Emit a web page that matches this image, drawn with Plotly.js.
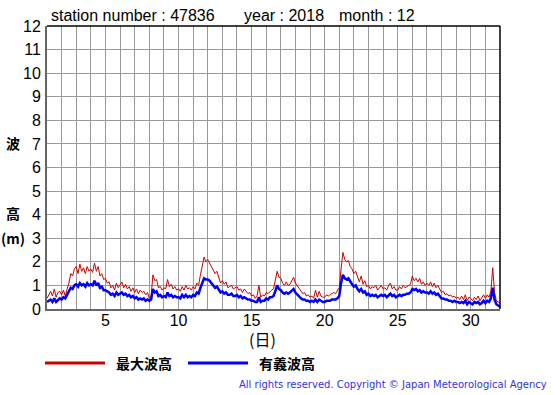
<!DOCTYPE html>
<html><head><meta charset="utf-8">
<script src="https://cdn.plot.ly/plotly-3.0.1.min.js"></script>
<style>html,body{margin:0;padding:0;background:#fff}#c{width:555px;height:395px}</style>
</head><body><div id="c"></div>
<script>
// 3-hourly samples, 8 per day, days 1..31, plus 32.0
const maxWave = [
0.45,0.6,0.75,0.55,0.85,0.5,0.7,0.75,
0.6,0.8,0.55,0.85,1.1,1.5,1.4,1.7,
1.8,1.5,1.9,1.6,1.75,1.5,1.8,1.6,
1.7,1.55,1.95,1.6,1.8,1.4,1.5,1.25,
1.3,1.1,1.15,0.9,1.0,0.8,1.1,0.9,
1.0,1.15,0.9,1.05,0.85,0.95,0.75,0.9,
0.7,0.85,0.65,0.8,0.7,0.75,0.6,0.7,
0.45,0.55,1.45,1.2,1.25,0.9,0.95,0.8,
0.9,0.85,1.25,0.95,1.05,0.85,0.95,0.8,
0.85,0.75,0.95,0.8,1.0,0.85,0.9,0.8,
0.95,0.85,1.1,1.0,1.45,1.9,2.2,2.0,
2.1,1.95,1.8,1.65,1.5,1.6,1.3,1.1,
1.2,1.05,1.15,0.9,0.95,1.0,0.85,0.9,
0.95,0.8,0.85,0.7,0.85,0.75,0.65,0.7,
0.55,0.6,0.45,0.55,1.0,0.5,0.6,0.55,
0.7,0.65,0.75,0.8,0.85,1.2,1.6,1.35,
1.3,1.1,1.0,1.15,1.0,1.05,1.2,1.35,
1.1,1.0,0.85,0.8,0.65,0.7,0.55,0.6,
0.5,0.55,0.45,0.8,0.5,0.75,0.55,0.5,
0.5,0.6,0.55,0.6,0.65,0.7,0.65,0.75,
0.9,1.7,2.4,2.1,2.0,2.05,1.8,1.7,
1.5,1.6,1.35,1.15,1.4,1.05,1.2,0.95,
1.0,0.85,0.95,0.9,1.0,0.8,0.9,1.0,
0.85,0.9,0.8,1.0,1.1,0.85,0.95,0.8,
0.8,0.95,0.85,1.0,0.9,0.95,1.0,1.05,
1.4,1.2,1.3,1.15,1.3,1.05,1.15,1.0,
1.1,1.0,1.15,0.95,1.1,0.9,1.0,0.85,
0.7,0.75,0.6,0.65,0.55,0.6,0.5,0.55,
0.45,0.5,0.4,0.55,0.4,0.6,0.35,0.5,
0.45,0.35,0.5,0.4,0.55,0.35,0.45,0.6,
0.45,0.6,0.5,0.75,1.75,0.7,0.35,0.3,
0.25];
const sigWave = [
0.3,0.35,0.4,0.3,0.45,0.3,0.4,0.45,
0.4,0.5,0.45,0.6,0.75,0.9,0.85,1.0,
1.05,0.95,1.1,1.0,1.05,0.95,1.1,1.0,
1.05,1.0,1.2,1.0,1.1,0.9,0.95,0.8,
0.8,0.75,0.7,0.6,0.65,0.55,0.7,0.6,
0.65,0.7,0.6,0.65,0.55,0.6,0.5,0.55,
0.45,0.5,0.4,0.45,0.4,0.45,0.35,0.4,
0.35,0.4,0.85,0.7,0.75,0.55,0.6,0.5,
0.55,0.5,0.7,0.55,0.6,0.5,0.55,0.5,
0.5,0.45,0.6,0.5,0.6,0.5,0.55,0.5,
0.6,0.55,0.7,0.65,0.9,1.1,1.3,1.25,
1.25,1.2,1.1,1.0,0.9,0.95,0.8,0.7,
0.75,0.65,0.7,0.6,0.6,0.65,0.55,0.55,
0.6,0.5,0.55,0.45,0.5,0.45,0.4,0.4,
0.35,0.35,0.3,0.3,0.5,0.3,0.35,0.35,
0.45,0.4,0.5,0.5,0.55,0.75,1.0,0.85,
0.8,0.7,0.65,0.7,0.65,0.7,0.8,0.85,
0.7,0.6,0.5,0.45,0.4,0.4,0.35,0.35,
0.3,0.35,0.3,0.4,0.3,0.4,0.35,0.3,
0.3,0.35,0.35,0.35,0.4,0.4,0.4,0.45,
0.55,1.1,1.45,1.3,1.25,1.3,1.15,1.05,
0.95,1.0,0.85,0.75,0.85,0.7,0.75,0.6,
0.65,0.55,0.6,0.55,0.6,0.5,0.55,0.6,
0.55,0.6,0.5,0.6,0.65,0.55,0.6,0.5,
0.55,0.6,0.55,0.6,0.6,0.65,0.65,0.7,
0.85,0.8,0.85,0.75,0.8,0.7,0.75,0.7,
0.7,0.65,0.75,0.65,0.7,0.6,0.65,0.55,
0.45,0.45,0.4,0.4,0.35,0.35,0.3,0.35,
0.3,0.3,0.25,0.3,0.25,0.35,0.2,0.3,
0.25,0.2,0.3,0.25,0.3,0.2,0.25,0.35,
0.25,0.35,0.3,0.45,0.9,0.4,0.2,0.15,
0.1];
const samplesPerDay = 8;
const days = maxWave.map((_, i) => 1 + i / samplesPerDay);
const xTicks = [5, 10, 15, 20, 25, 30];
const yTicks = [0,1,2,3,4,5,6,7,8,9,10,11,12];
const seriesNames = ['最大波高', '有義波高'];
const titleParts = ['station number : 47836', 'year : 2018', 'month : 12'];

const W = 555, H = 395, L = 47, R = 55, T = 26, B = 86;
const pw = W - L - R, ph = H - T - B;
const px = v => (v - L) / pw;      // pixel x -> paper
const py = v => (H - B - v) / ph;  // pixel y -> paper

const traces = [
  {x: days, y: maxWave, name: seriesNames[0], mode: 'lines', line: {color: '#cc0000', width: 1}},
  {x: days, y: sigWave, name: seriesNames[1], mode: 'lines', line: {color: '#0000ff', width: 2.5}}
];
const sans = 'Liberation Sans, Arial, sans-serif';
const tickFont = {family: sans, size: 16, color: '#000'};
const cjk = {family: 'Noto Sans CJK JP, sans-serif', size: 14, color: '#000', weight: 'bold'};
function ann(text, x, y, xanchor, font) {
  return {text, xref: 'paper', yref: 'paper', x: px(x), y: py(y), xanchor, yanchor: 'middle', showarrow: false, font};
}
const layout = {
  width: W, height: H, margin: {l: L, r: R, t: T, b: B, pad: 0},
  paper_bgcolor: '#fff', plot_bgcolor: '#fff', showlegend: false,
  xaxis: {range: [1, 32], tickvals: xTicks, ticks: '', showgrid: true, gridcolor: '#999', gridwidth: 1,
    minor: {dtick: 1, tick0: 0, showgrid: true, gridcolor: '#999', gridwidth: 1},
    showline: true, linecolor: '#666', linewidth: 2, zeroline: false, tickfont: tickFont, ticklabelstandoff: -4},
  yaxis: {range: [0, 12], tickvals: yTicks, ticks: '', showgrid: true, gridcolor: '#999', gridwidth: 1,
    showline: true, linecolor: '#666', linewidth: 2, zeroline: false, tickfont: tickFont, ticklabelstandoff: 1},
  shapes: [
    {type: 'line', xref: 'paper', yref: 'paper', x0: 0, x1: 1, y0: 1, y1: 1, line: {color: '#000', width: 1.5}},
    {type: 'line', xref: 'paper', yref: 'paper', x0: 1, x1: 1, y0: 0, y1: 1, line: {color: '#000', width: 1.5}},
    {type: 'line', xref: 'paper', yref: 'paper', x0: px(45), x1: px(105), y0: py(363), y1: py(363), line: {color: '#cc0000', width: 3}},
    {type: 'line', xref: 'paper', yref: 'paper', x0: px(188), x1: px(248), y0: py(363), y1: py(363), line: {color: '#0000ff', width: 3}}
  ],
  annotations: [
    ann(titleParts[0], 49, 16, 'left', {family: sans, size: 16, color: '#000'}),
    ann(titleParts[1], 242, 16, 'left', {family: sans, size: 16, color: '#000'}),
    ann(titleParts[2], 337, 16, 'left', {family: sans, size: 16, color: '#000'}),
    ann('波', 13, 143, 'center', cjk),
    ann('高', 13, 213, 'center', cjk),
    ann('(m)', 13, 238, 'center', cjk),
    ann('(日)', 262, 339, 'center', {family: 'Noto Sans CJK JP, sans-serif', size: 16, color: '#000'}),
    ann(seriesNames[0], 114, 363, 'left', cjk),
    ann(seriesNames[1], 257, 363, 'left', cjk),
    ann('All rights reserved. Copyright © Japan Meteorological Agency', 549, 384, 'right',
      {family: 'DejaVu Sans, sans-serif', size: 10, color: '#3333dd'})
  ]
};
Plotly.newPlot('c', traces, layout, {staticPlot: true, displayModeBar: false});
</script></body></html>
